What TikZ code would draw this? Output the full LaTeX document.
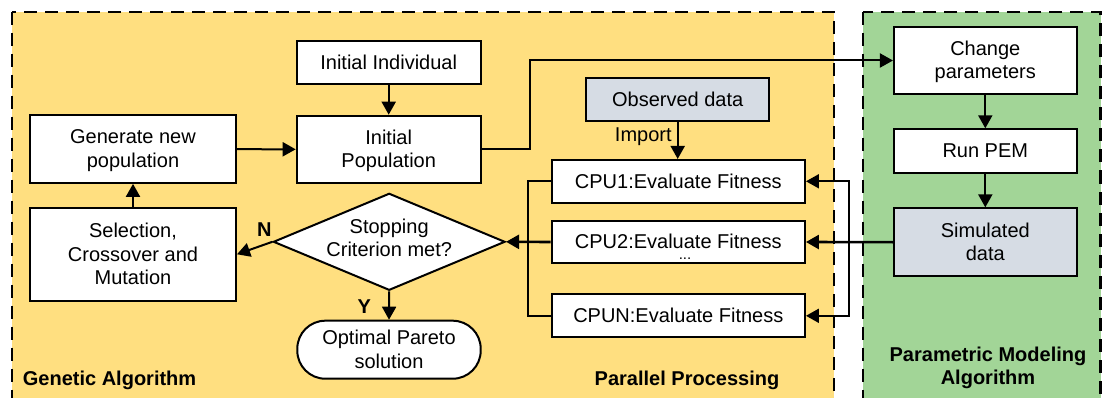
\documentclass[tikz,border=0pt]{standalone}
\usepackage{fontspec}
\usepackage{array}
\setmainfont{Liberation Sans}
\usetikzlibrary{arrows.meta,shapes.geometric}

\definecolor{gaYellow}{HTML}{FFDF80}
\definecolor{pmGreen}{HTML}{A2D597}
\definecolor{dataBlue}{HTML}{D6DCE4}

% line struts: fixed ascent/descent so that text blocks centre evenly
\newcommand\boxStrut{\rule[-5pt]{0pt}{23.5pt}}
\newcommand\diaStrut{\rule[-8.8pt]{0pt}{23.5pt}}
% centred stack of lines, each line carrying the given strut
\newcommand\lines[2][\boxStrut]{{\renewcommand\arraystretch{0}%
  \begin{tabular}{@{}>{#1}c@{}}#2\end{tabular}}}

\tikzset{
  region/.style={draw=black, line width=2.2pt, dash pattern=on 13pt off 8pt},
  box/.style={draw=black, line width=2pt, fill=white, inner sep=0pt,
              font=\fontsize{20}{23.5}\selectfont},
  databox/.style={box, fill=dataBlue},
  decision/.style={box, shape=diamond, aspect=2.39, inner sep=-10pt},
  terminal/.style={box, rounded corners=28pt},
  flow/.style={line width=2pt, -{Triangle[length=13pt,width=14pt]}},
  wire/.style={line width=2pt},
  tag/.style={font=\fontsize{20}{23}\selectfont\bfseries, align=center, inner sep=0pt},
  note/.style={font=\fontsize{20}{23}\selectfont, inner sep=0pt}
}

\begin{document}
\begin{tikzpicture}[x=1pt, y=-1pt]
\useasboundingbox (0,0) rectangle (1102,398);
\clip (0,0) rectangle (1102,398);

% group backgrounds
\draw[region, fill=gaYellow] (11.7,11.7) rectangle (834,420);
\draw[region, fill=pmGreen] (863.3,11.7) rectangle (1100.5,420);

% genetic algorithm
\node[box, minimum width=184pt, minimum height=43.3pt] (ii) at (388.7,62.3) {\lines{Initial Individual}};
\node[box, minimum width=184pt, minimum height=67.6pt] (ip) at (388.7,149.5) {\lines{Initial\\Population}};
\node[box, minimum width=206pt, minimum height=67.7pt] (gen) at (133,149) {\lines{Generate new\\population}};
\node[box, minimum width=206pt, minimum height=92.7pt] (sel) at (133,254.3) {\lines{Selection,\\Crossover and\\Mutation}};
\node[decision, minimum width=231.7pt, minimum height=97pt] (dia) at (389.2,241.8) {\lines[\diaStrut]{Stopping\\Criterion met?}};
\node[terminal, minimum width=183.4pt, minimum height=58pt] (ops) at (389,349.7) {\lines{Optimal Pareto\\solution}};

% parallel processing
\node[databox, minimum width=183.3pt, minimum height=42.4pt] (obs) at (677.7,99.5) {\lines{Observed data}};
\node[box, minimum width=253.3pt, minimum height=42.7pt] (cpu1) at (678.3,181.3) {\lines{CPU1:Evaluate Fitness}};
\node[box, minimum width=253.3pt, minimum height=42.7pt] (cpu2) at (678.3,242) {\lines{CPU2:Evaluate Fitness}};
\node[box, minimum width=253.3pt, minimum height=43pt] (cpun) at (678.3,315.8) {\lines{CPUN:Evaluate Fitness}};
\node[note, font=\fontsize{15}{15}\selectfont, anchor=base] (dots) at (685,259.5) {...};

% parametric modeling
\node[box, minimum width=182.7pt, minimum height=67.6pt] (chg) at (985.3,60.5) {\lines{Change\\parameters}};
\node[box, minimum width=182.7pt, minimum height=43.4pt] (pem) at (985.3,151) {\lines{Run PEM}};
\node[databox, minimum width=182.7pt, minimum height=67.7pt] (sim) at (985.3,242.2) {\lines{Simulated\\data}};

% junction points
\coordinate (jx) at (530,60.5);
\coordinate (lb) at (528,242);
\coordinate (rb) at (849.3,242);

% connectors
\draw[flow] (ii) -- (ip);
\draw[flow] (gen) -- (ip);
\draw[flow] (sel) -- (gen);
\draw[flow] (dia.west) -- (sel.east);
\draw[flow] (dia.south) -- (ops.north);
\draw[flow] (ip.east) -| (jx) -- (chg.west);
\draw[flow] (obs.south) -- (obs.south |- cpu1.north);
\draw[wire] (cpu1.west) -| (lb) |- (cpun.west);
\draw[flow, line width=2.6pt] (cpu2.west) -- (dia.east);
\draw[flow, line width=2.6pt] (sim.west) -- (cpu2.east);
\draw[flow] (rb) |- (cpu1.east);
\draw[flow] (rb) |- (cpun.east);
\draw[flow] (chg) -- (pem);
\draw[flow] (pem) -- (sim);

% connector labels
\node[tag] (lN) at (264.3,229.7) {N};
\node[tag] (lY) at (364.3,306.3) {Y};
\node[note] (imp) at (643.3,136.7) {Import};

% group titles
\node[tag, anchor=west] (tGA) at (22.7,380.7) {Genetic Algorithm};
\node[tag] (tPP) at (687,380) {Parallel Processing};
\node[tag] (tPM) at (988,368) {Parametric Modeling\\Algorithm};
\end{tikzpicture}
\end{document}
